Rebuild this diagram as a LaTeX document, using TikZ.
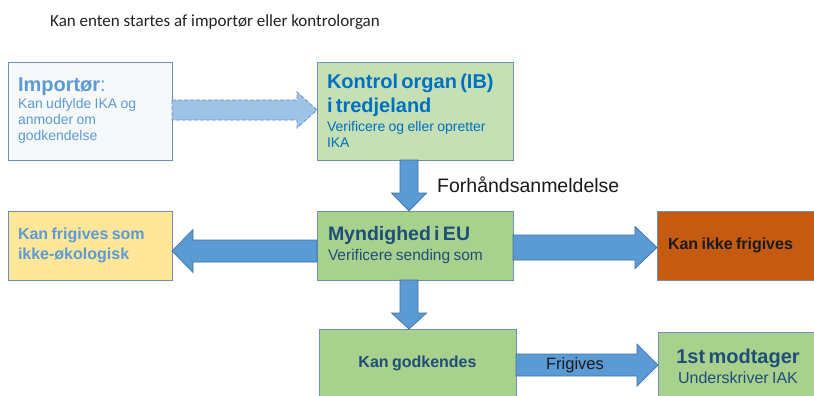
\documentclass[tikz,border=0pt]{standalone}
\usepackage{fontspec}
\setmainfont{Liberation Sans}
\newfontfamily\calibrifont{Carlito}
\usetikzlibrary{calc}
\definecolor{boxline}{HTML}{6D8FBA}
\definecolor{impfill}{HTML}{F6F8FA}
\definecolor{imptext}{HTML}{5B9BD5}
\definecolor{kofill}{HTML}{C5E0B4}
\definecolor{kotext}{HTML}{0070C0}
\definecolor{greenfill}{HTML}{A9D18E}
\definecolor{darkblue}{HTML}{1F4E79}
\definecolor{yelfill}{HTML}{FFE699}
\definecolor{orafill}{HTML}{C55A11}
\definecolor{oratext}{HTML}{1A1A1A}
\definecolor{arrfill}{HTML}{5B9BD5}
\definecolor{arrline}{HTML}{41719C}
\definecolor{lightarr}{HTML}{9DC3E6}
\definecolor{dashline}{HTML}{6A8FC0}
\definecolor{titletext}{HTML}{222222}
\begin{document}
\begin{tikzpicture}[x=1pt,y=-1pt,
  box/.style={draw=boxline, line width=0.8pt, inner sep=0pt, outer sep=0pt, anchor=north west, align=left},
  blockarr/.style={fill=arrfill, draw=arrline, line width=0.7pt},
  hblock/.style n args={3}{to path={let \p1=(\tikztostart),\p2=(\tikztotarget),\n1={ifthenelse(\x2>\x1,1,-1)} in
     (\x1,{\y1+#1}) -- ({\x2-\n1*#3},{\y1+#1}) -- ({\x2-\n1*#3},{\y1+#2}) -- (\x2,\y1)
     -- ({\x2-\n1*#3},{\y1-#2}) -- ({\x2-\n1*#3},{\y1-#1}) -- (\x1,{\y1-#1}) -- cycle}},
  vblock/.style n args={3}{to path={let \p1=(\tikztostart),\p2=(\tikztotarget),\n1={ifthenelse(\y2>\y1,1,-1)} in
     ({\x1+#1},\y1) -- ({\x1+#1},{\y2-\n1*#3}) -- ({\x1+#2},{\y2-\n1*#3}) -- (\x1,\y2)
     -- ({\x1-#2},{\y2-\n1*#3}) -- ({\x1-#1},{\y2-\n1*#3}) -- ({\x1-#1},\y1) -- cycle}}
]
\useasboundingbox (0,0) rectangle (814,396);
\clip (0,0) rectangle (814,396);
\fill[white] (0,0) rectangle (814,396);

% title
\node[anchor=west, inner sep=0pt, text=titletext, font=\calibrifont\fontsize{17}{20}\selectfont] (title) at (50,22) {Kan enten startes af importør eller kontrolorgan};

% boxes
\node[box, fill=impfill, text=imptext, minimum width=164pt, minimum height=98pt, text width=144pt] (imp) at (8,62)
  {\fontsize{20}{22}\selectfont\textbf{Importør}:\par\vspace{1pt}\fontsize{14}{16}\selectfont Kan udfylde IKA og\\anmoder om\\godkendelse\par};

\node[box, fill=kofill, text=kotext, minimum width=196pt, minimum height=98pt, text width=176pt] (ko) at (317,62)
  {\fontsize{20}{24}\selectfont\bfseries Kontrol organ (IB)\\i tredjeland\par\vspace{3pt}\fontsize{14}{16}\selectfont\mdseries Verificere og eller opretter\\IKA\par};

\node[box, fill=greenfill, text=darkblue, minimum width=196pt, minimum height=69pt, text width=174pt] (my) at (317,211)
  {\fontsize{19.5}{22}\selectfont\bfseries Myndighed i EU\par\fontsize{15.5}{20}\selectfont\mdseries Verificere sending som\par};

\node[box, fill=yelfill, text=imptext, minimum width=164pt, minimum height=69pt, text width=144pt] (yel) at (8,211)
  {\fontsize{16}{20}\selectfont\bfseries Kan frigives som\\ikke-økologisk\par};

\node[box, fill=orafill, text=oratext, minimum width=160pt, minimum height=69pt, text width=138pt] (ora) at (657,211)
  {\fontsize{16}{20}\selectfont\bfseries Kan ikke frigives\par};

\node[box, fill=greenfill, text=darkblue, minimum width=197pt, minimum height=68pt, text width=180pt, align=center] (kg) at (319,329)
  {\fontsize{16}{20}\selectfont\bfseries Kan godkendes\par};

\node[box, fill=greenfill, text=darkblue, minimum width=160pt, minimum height=68pt, text width=150pt, align=center] (fm) at (658,332)
  {\fontsize{20}{22}\selectfont\bfseries 1st modtager\par\fontsize{16}{20}\selectfont\mdseries Underskriver IAK\par};

% arrows
\draw[fill=lightarr, draw=dashline, line width=0.8pt, dash pattern=on 4pt off 2pt]
  (imp.east |- 0,110) to[hblock={10}{18}{20}] (ko.west |- 0,110);
\draw[blockarr] (ko.south -| 409,0) to[vblock={9}{17.5}{18}] (my.north -| 409,0);
\draw[blockarr] (my.west |- 0,251) to[hblock={11}{21.5}{21}] (yel.east |- 0,251);
\draw[blockarr] (my.east |- 0,247.5) to[hblock={12.5}{21}{22}] (ora.west |- 0,247.5);
\draw[blockarr] (my.south -| 409,0) to[vblock={9}{17.5}{16}] (kg.north -| 409,0);
\draw[blockarr] (kg.east |- 0,365) to[hblock={11}{21}{21}] (fm.west |- 0,365);

% labels
\node[anchor=west, inner sep=0pt, text=black!90, font=\fontsize{19.5}{22}\selectfont] (forh) at (437,185) {Forhåndsanmeldelse};
\node[inner sep=0pt, text=oratext, font=\fontsize{16.5}{20}\selectfont] (frig) at (575,365) {Frigives};
\end{tikzpicture}
\end{document}
